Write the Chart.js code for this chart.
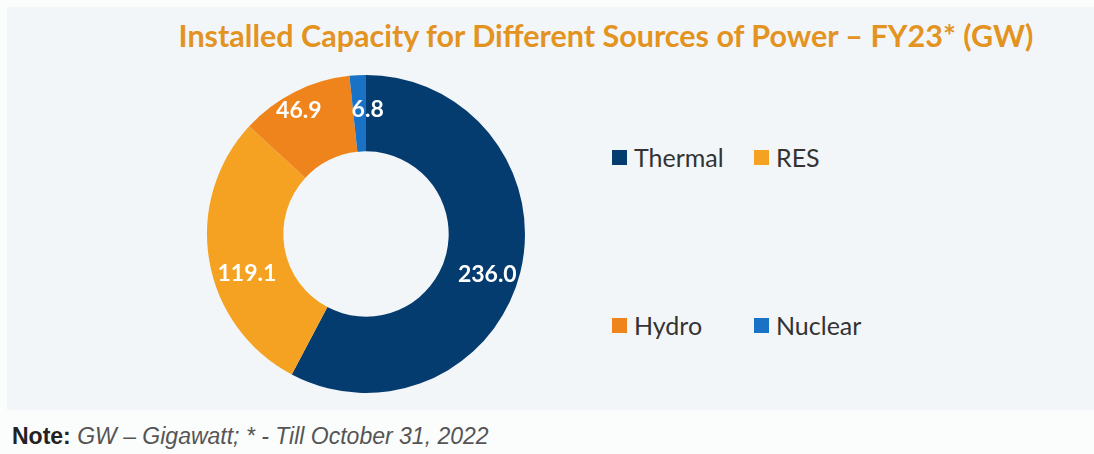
<!DOCTYPE html>
<html>
<head>
<meta charset="utf-8">
<script src="https://cdn.jsdelivr.net/npm/chart.js@4.4.0/dist/chart.umd.min.js"></script>
<style>
  html, body { margin: 0; padding: 0; }
  body { width: 1094px; height: 454px; background: #fbfcfc; position: relative; overflow: hidden; font-family: Lato, "Open Sans", sans-serif; }
  #panel { position: absolute; left: 7px; top: 7px; width: 1087px; height: 403px; background: #f3f6f8; }
  #title { position: absolute; left: 0; width: 1212px; top: 20px; text-align: center; font-weight: 700; font-size: 30.5px; line-height: 30px; color: #e3931f; white-space: nowrap; }
  #chartBox { position: absolute; left: 187px; top: 55px; width: 358px; height: 358px; }
  #legend { position: absolute; left: 612px; top: 142px; width: 300px; height: 200px; }
  .item { position: absolute; display: flex; align-items: center; font-size: 25px; color: #333; white-space: nowrap; }
  .item span.box { display: inline-block; width: 15px; height: 15px; margin-right: 7px; }
  #note { position: absolute; left: 12px; top: 423px; font-family: "Liberation Sans", Arial, sans-serif; font-size: 23px; color: #555; white-space: nowrap; }
  #note b { color: #222; }
  #note i { color: #555; }
</style>
</head>
<body>
<div id="panel"></div>
<div id="title">Installed Capacity for Different Sources of Power – FY23* (GW)</div>
<div id="chartBox"><canvas id="donut"></canvas></div>
<div id="legend"></div>
<div id="note"><b>Note:</b> <i>GW – Gigawatt; * - Till October 31, 2022</i></div>

<script>
// données du graphique
const sources = ["Thermal", "RES", "Hydro", "Nuclear"];
const capacity = [236.0, 119.1, 46.9, 6.8];
const colors = ["#053c70", "#f5a222", "#f0841c", "#1a72c7"];
const valueLabels = ["236.0", "119.1", "46.9", "6.8"];
// décalage des étiquettes (px) par rapport au milieu du segment
const labelNudge = [[4, 12], [0, 19], [-13, -15], [8, -4]];

// étiquettes blanches sur les segments
const sliceLabels = {
    id: "sliceLabels",
    afterDatasetsDraw(chart) {
        const ctx = chart.ctx;
        const meta = chart.getDatasetMeta(0);
        ctx.save();
        ctx.fillStyle = "#ffffff";
        ctx.font = "bold 23px Lato, 'Open Sans', sans-serif";
        ctx.textAlign = "center";
        ctx.textBaseline = "middle";
        meta.data.forEach((arc, i) => {
            const p = arc.tooltipPosition();
            ctx.fillText(valueLabels[i], p.x + labelNudge[i][0], p.y + labelNudge[i][1]);
        });
        ctx.restore();
    }
};

// légende en grille 2x2
const htmlLegend = {
    id: "htmlLegend",
    afterUpdate(chart) {
        const box = document.getElementById("legend");
        box.innerHTML = "";
        const items = chart.options.plugins.legend.labels.generateLabels(chart);
        items.forEach((it, i) => {
            const div = document.createElement("div");
            div.className = "item";
            div.style.left = (i % 2) * 142 + "px";
            div.style.top = Math.floor(i / 2) * 168 + "px";
            const sq = document.createElement("span");
            sq.className = "box";
            sq.style.background = it.fillStyle;
            div.appendChild(sq);
            div.appendChild(document.createTextNode(it.text));
            box.appendChild(div);
        });
    }
};

new Chart(document.getElementById("donut"), {
    type: "doughnut",
    data: {
        labels: sources,
        datasets: [{
            data: capacity,
            backgroundColor: colors,
            borderWidth: 0,
            hoverOffset: 0
        }]
    },
    options: {
        responsive: true,
        maintainAspectRatio: false,
        animation: false,
        cutout: "52%",
        layout: { padding: 20 },
        plugins: {
            legend: { display: false },
            tooltip: { enabled: false }
        }
    },
    plugins: [sliceLabels, htmlLegend]
});
</script>
</body>
</html>
